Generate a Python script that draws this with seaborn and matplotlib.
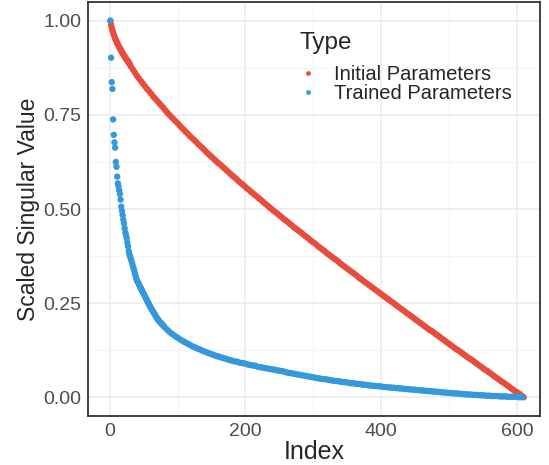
import numpy as np
import pandas as pd
import matplotlib
matplotlib.use("Agg")
import matplotlib.pyplot as plt
import seaborn as sns
from matplotlib.ticker import MultipleLocator, FormatStrFormatter

series_names = ["Initial Parameters", "Trained Parameters"]
series_colors = ["#E74C3C", "#3498DB"]

initial_index = list(range(1, 31)) + list(range(31, 611, 3))
initial_values = [
    1.000, .990, .982, .975, .969, .963, .958, .953, .949, .945,
    .941, .937, .934, .930, .927, .924, .920, .917, .914, .911,
    .908, .905, .902, .899, .897, .894, .892, .889, .886, .883,
    .879, .871, .863, .854, .847, .840, .833, .826, .819, .813,
    .806, .799, .793, .787, .781, .775, .769, .762, .756, .750,
    .744, .739, .733, .728, .722, .716, .711, .705, .700, .694,
    .689, .684, .679, .673, .668, .663, .658, .652, .647, .642,
    .637, .632, .627, .622, .618, .613, .608, .603, .598, .593,
    .588, .584, .579, .574, .569, .565, .560, .555, .551, .546,
    .542, .537, .533, .528, .524, .519, .514, .510, .505, .501,
    .496, .492, .488, .483, .479, .474, .470, .466, .461, .457,
    .452, .448, .444, .440, .436, .431, .427, .423, .418, .414,
    .410, .406, .401, .397, .393, .389, .384, .380, .376, .372,
    .368, .364, .360, .355, .351, .347, .343, .339, .335, .331,
    .327, .323, .318, .314, .310, .306, .302, .298, .294, .290,
    .286, .282, .278, .274, .270, .266, .262, .258, .254, .250,
    .246, .242, .238, .234, .230, .226, .222, .218, .214, .210,
    .206, .202, .198, .194, .190, .186, .182, .178, .175, .171,
    .167, .163, .159, .155, .151, .147, .143, .139, .135, .131,
    .127, .124, .120, .116, .112, .108, .104, .101, .097, .093,
    .089, .085, .081, .077, .073, .070, .066, .062, .058, .054,
    .050, .046, .042, .039, .035, .031, .027, .023, .019, .015,
    .012, .008, .004, .000,
]

trained_index = list(range(1, 81)) + list(range(83, 611, 3))
trained_head_values = [
    1.000, .902, .837, .819, .738, .697, .677, .663, .625, .612,
    .586, .568, .560, .550, .540, .525, .506, .495, .484, .472,
    .462, .449, .438, .430, .422, .410, .401, .388, .380, .374,
    .368, .362, .356, .349, .343, .337, .330, .323, .316, .310,
    .307, .304, .300, .296, .292, .289, .285, .282, .278, .275,
    .271, .268, .264, .260, .257, .253, .250, .246, .243, .239,
    .236, .233, .230, .227, .224, .221, .218, .215, .212, .209,
    .207, .204, .202, .200, .198, .196, .194, .192, .190, .188,
]
trained_tail_values = [
    .182, .177, .172, .168, .164, .160, .157, .153, .150, .147,
    .144, .141, .138, .135, .133, .130, .128, .126, .123, .121,
    .119, .117, .115, .113, .111, .109, .108, .106, .104, .103,
    .101, .099, .098, .096, .095, .094, .092, .091, .090, .089,
    .087, .086, .085, .084, .083, .081, .080, .079, .078, .077,
    .076, .075, .074, .073, .072, .071, .070, .069, .068, .066,
    .065, .064, .063, .062, .061, .060, .059, .058, .057, .056,
    .055, .054, .053, .052, .051, .050, .049, .048, .048, .047,
    .046, .045, .044, .043, .043, .042, .041, .040, .040, .039,
    .038, .037, .037, .036, .035, .035, .034, .033, .033, .032,
    .031, .031, .030, .030, .029, .029, .028, .027, .027, .026,
    .026, .025, .025, .024, .024, .023, .023, .022, .022, .021,
    .021, .020, .020, .019, .019, .018, .018, .017, .017, .016,
    .016, .015, .015, .014, .014, .013, .013, .012, .012, .011,
    .011, .010, .010, .010, .009, .009, .008, .008, .007, .007,
    .007, .006, .006, .006, .005, .005, .005, .004, .004, .004,
    .003, .003, .003, .003, .002, .002, .002, .002, .001, .001,
    .001, .001, .001, .000, .000, .000,
]
trained_values = trained_head_values + trained_tail_values

df = pd.concat([
    pd.DataFrame({"Index": initial_index, "Value": initial_values, "Type": series_names[0]}),
    pd.DataFrame({"Index": trained_index, "Value": trained_values, "Type": series_names[1]}),
], ignore_index=True)

sns.set_style("white")
plt.rcParams["font.family"] = ["Liberation Sans", "DejaVu Sans"]

W, H = 549, 465
fig = plt.figure(figsize=(W / 100, H / 100), dpi=100)
ax = fig.add_axes([88 / W, 49 / H, 452 / W, 414 / H])

sns.scatterplot(data=df, x="Index", y="Value", hue="Type", hue_order=series_names,
                palette=series_colors, s=21, linewidth=0, ax=ax, zorder=3)

ax.set_xlim(-32, 634)
ax.set_ylim(-0.05, 1.05)
ax.xaxis.set_major_locator(MultipleLocator(200))
ax.xaxis.set_minor_locator(MultipleLocator(100))
ax.yaxis.set_major_locator(MultipleLocator(0.25))
ax.yaxis.set_minor_locator(MultipleLocator(0.125))
ax.yaxis.set_major_formatter(FormatStrFormatter("%.2f"))
ax.grid(which="major", color="#EBEBEB", linewidth=1.1)
ax.grid(which="minor", color="#F2F2F2", linewidth=0.6)
ax.set_axisbelow(True)
for sp in ax.spines.values():
    sp.set_visible(True)
    sp.set_color("#333333")
    sp.set_linewidth(1.3)
ax.tick_params(which="major", length=3, width=1, color="#333333", labelsize=14,
               labelcolor="#4D4D4D", pad=2)
ax.tick_params(which="minor", length=0)
ax.set_xlabel("Index", fontsize=18, labelpad=0)
ax.set_ylabel("Scaled Singular Value", fontsize=16.5, labelpad=2)

leg = ax.get_legend()
handles = leg.legend_handles
labels = [t.get_text() for t in leg.get_texts()]
leg = ax.legend(handles, labels, title="Type", loc="upper left",
                bbox_to_anchor=(299 / W, 1 - 32 / H), bbox_transform=fig.transFigure,
                frameon=False, fontsize=14.5, title_fontsize=17.5, handlelength=0.9,
                handletextpad=0.85, labelspacing=-0.02, borderpad=0, borderaxespad=0,
                alignment="left", markerscale=0.75)
leg._legend_box.sep = 8

fig.savefig("out.png", dpi=100)
